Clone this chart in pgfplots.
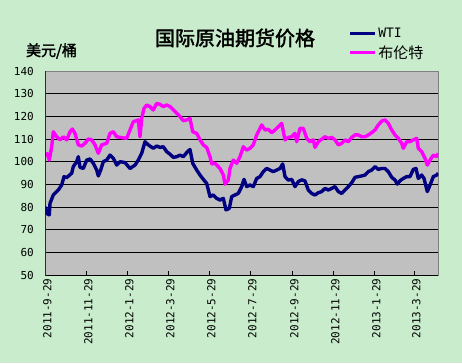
\documentclass[border=0pt]{standalone}
\usepackage{fontspec}
\usepackage{pgfplots}
\pgfplotsset{compat=1.18}
\newfontfamily\tickfont{DejaVu Sans Mono}
\newfontfamily\cjk{Noto Sans CJK SC}
\newfontfamily\cjkb[FakeBold=2]{Noto Sans CJK SC}
\definecolor{bggreen}{RGB}{200,236,204}
\definecolor{plotgray}{RGB}{192,192,192}
\definecolor{wti}{RGB}{0,0,128}
\definecolor{brent}{RGB}{255,0,255}
\begin{document}
\begin{tikzpicture}[x=1bp,y=1bp]
\useasboundingbox (0,0) rectangle (462,363);
\fill[bggreen] (0,0) rectangle (462,363);
\node[font=\cjkb\fontsize{20bp}{24bp}\selectfont] at (235,325) {国际原油期货价格};
\node[font=\cjkb\fontsize{15bp}{18bp}\selectfont] at (51.5,312) {美元/桶};
\begin{axis}[
  at={(45.3bp,88bp)}, anchor=south west,
  scale only axis, width=393bp, height=204bp,
  xmin=0, xmax=393, ymin=50, ymax=140,
  ytick={50,60,...,140},
  xtick={0,41,82,123,164,205,247,288,329,369},
  xticklabels={2011-9-29,2011-11-29,2012-1-29,2012-3-29,2012-5-29,2012-7-29,2012-9-29,2012-11-29,2013-1-29,2013-3-29},
  /pgf/number format/assume math mode=true,
  tick label style={font=\tickfont\fontsize{11bp}{13bp}\selectfont},
  xticklabel style={rotate=90, anchor=east, yshift=-2bp},
  yticklabel style={anchor=east, xshift=-8bp},
  ymajorgrids, grid style={black, line width=0.8bp},
  axis background/.style={fill=plotgray},
  axis line style={draw=gray, line width=0.8bp},
  tick align=inside, major tick length=4bp, tick style={black, line width=0.8bp},
  xtick pos=bottom, ytick pos=left,
  legend style={at={(0.772,1.222)}, anchor=north west, draw=none, fill=none,
    font=\cjk\fontsize{15bp}{18bp}\selectfont, row sep=2.5bp, inner sep=0bp},
  legend cell align=left,
  legend image code/.code={\draw[#1, line width=2.4bp] (0bp,0bp) -- (25bp,0bp);},
]
\addplot[wti, line width=3.4bp, line join=round] coordinates {
(0.0,80.1) (2.0,77) (4.0,76.5) (4.7,81.6) (8.0,85.3) (13.0,87.5) (16.4,89.7) (18.7,93.4)
(21.4,93) (26.4,94.9) (28.0,97.8) (31.4,100) (33.0,102.2) (34.7,97.5) (38.0,97)
(41.4,100.7) (44.7,101.2) (48.0,99.3) (51.4,96.3) (53.0,93.7) (55.4,96.3) (58.0,100)
(61.4,100.7) (64.7,102.9) (68.0,101.5) (71.4,98.5) (74.7,100) (79.7,99.6) (84.7,97)
(89.7,98.5) (93.0,100.7) (96.4,103.7) (99.7,108.8) (103.0,107.4) (108.0,105.9)
(111.4,106.9) (114.7,106.3) (118.0,106.6) (121.4,104.4) (124.7,103.3) (128.0,101.9)
(131.4,102.2) (134.7,102.9) (138.0,102.2) (141.4,104) (144.7,105.4) (147.4,99.3)
(151.4,96.3) (154.7,94.1) (158.0,92.2) (161.4,90.4) (164.7,84.6) (168.0,85.3)
(171.4,83.8) (174.7,83.1) (178.0,83.8) (180.7,78.7) (184.0,79.4) (186.4,84.6)
(189.7,85.3) (193.0,86) (196.4,89) (198.7,92.2) (201.4,89) (204.7,89.7) (208.0,89)
(211.4,92.6) (214.7,93.4) (218.0,95.6) (221.4,97) (224.7,96.3) (228.0,95.6)
(231.4,96.3) (234.7,97) (237.4,99) (239.7,93.4) (243.0,91.9) (246.4,92.2) (249.7,89)
(253.0,91.2) (256.4,92.0) (259.7,91.5) (263.0,87.5) (266.4,86) (269.7,85.3)
(273.0,86.3) (276.4,86.8) (279.7,88.2) (283.0,87.5) (286.4,88.2) (289.7,89)
(293.0,86.8) (296.4,86) (299.7,87.5) (303.0,89) (306.4,90.7) (309.7,93.1) (313.0,93.4)
(316.4,93.7) (319.7,94.1) (323.0,95.6) (326.4,96.3) (329.7,97.8) (333.0,96.6)
(336.4,97) (339.7,97) (343.0,95.6) (346.4,93.1) (349.7,91.9) (352.0,90.1) (354.7,91.6)
(358.0,92.6) (361.4,93.4) (364.7,93.4) (368.0,96.6) (370.7,97) (373.0,92.6)
(376.4,94.1) (378.7,92.6) (382.0,86.8) (385.4,90.4) (388.0,93.4) (391.4,94.1) (393.0,94.9)
};
\addlegendentry{\tickfont\fontsize{13bp}{15bp}\selectfont WTI}
\addplot[brent, line width=3.4bp, line join=round] coordinates {
(0.0,102.9) (2.0,103.5) (4.0,100.7) (6.4,106.6) (8.0,113.2) (11.4,111) (14.7,109.6)
(18.0,111) (21.4,109.6) (24.7,113.2) (27.0,114.4) (29.7,112.5) (33.0,107.4) (36.4,106.9)
(39.7,108.1) (43.0,110) (46.4,109.6) (49.7,107.4) (53.0,103.7) (56.4,107.4) (61.4,108.1)
(64.7,112.5) (68.0,113.2) (71.4,111) (76.4,110.6) (81.4,110.3) (84.7,114) (88.0,117.6)
(93.0,118.4) (94.7,111) (96.4,119.1) (98.7,123.5) (101.4,125) (104.7,124.3) (108.0,122.8)
(111.4,125.7) (114.7,125.3) (118.0,124.3) (121.4,125) (124.7,124.3) (129.7,122.1)
(134.7,119.9) (138.0,118.1) (141.4,118.4) (144.7,119.1) (147.4,113.2) (151.4,112.5)
(154.7,109.6) (158.0,107.4) (161.4,106.3) (164.7,102.2) (166.4,99) (169.7,99.3)
(174.7,97) (178.0,94.1) (179.7,90.1) (183.0,91.9) (184.7,97) (188.0,100.7) (191.4,99.3)
(194.7,102.2) (198.0,106.6) (201.4,105.1) (204.7,105.9) (208.0,107.4) (211.4,111.8)
(216.4,116.2) (219.7,114) (223.0,114.3) (226.4,112.8) (229.7,114) (233.0,115.4)
(236.4,116.9) (239.7,109.6) (243.0,110.7) (246.4,111) (249.7,112.5) (251.4,108.8)
(254.7,114.7) (258.0,114.7) (261.4,110.3) (264.7,108.8) (268.0,109.6) (269.7,106.3)
(273.0,108.8) (276.4,109.9) (279.7,111) (283.0,110.3) (286.4,110.7) (289.7,109.6)
(293.0,107.4) (296.4,108.1) (299.7,109.6) (303.0,108.8) (306.4,110.7) (309.7,111.8)
(313.0,111.8) (316.4,111) (319.7,111) (323.0,111.8) (326.4,112.8) (329.7,114)
(333.0,116.2) (336.4,117.9) (339.7,118.4) (343.0,116.9) (346.4,114) (349.7,111.8)
(353.0,110.3) (356.4,108.1) (358.0,105.9) (361.4,108.8) (364.7,108.8) (368.0,109.6)
(371.4,110.3) (373.0,105.9) (376.4,104.4) (379.7,101.5) (382.0,98.5) (384.7,100.7)
(388.0,102.9) (391.4,102.2) (393.0,103.7)
};
\addlegendentry{布伦特}
\draw[black, line width=0.8bp] (rel axis cs:0,1) -- (rel axis cs:0,0) -- (rel axis cs:1,0);
\end{axis}
\end{tikzpicture}
\end{document}
